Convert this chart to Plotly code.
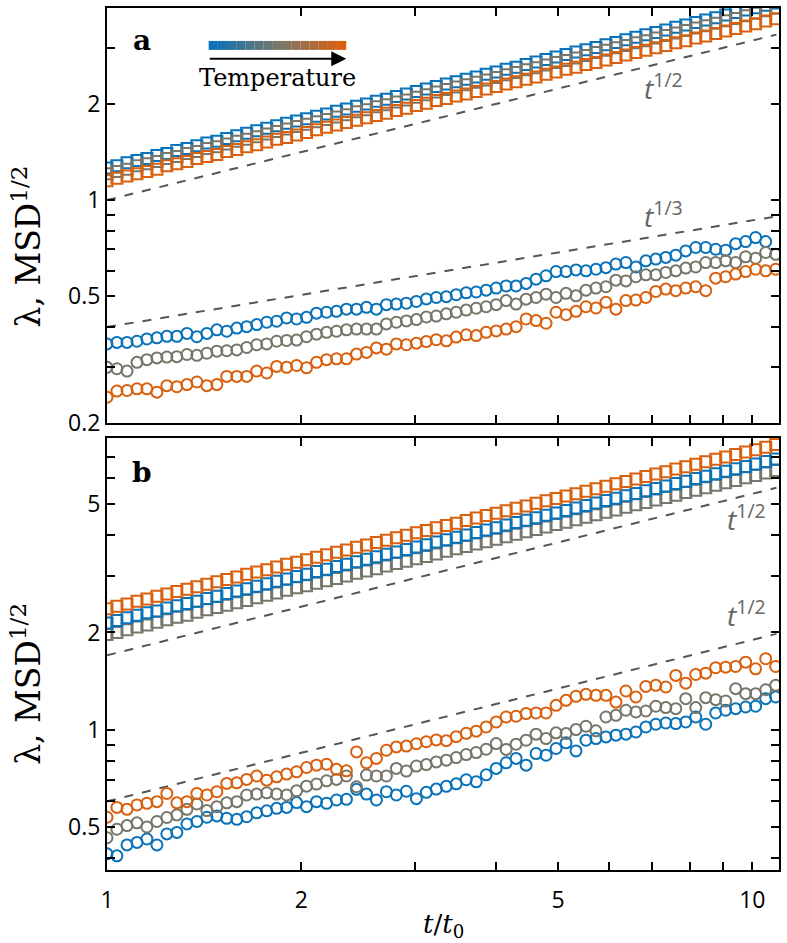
import math
import plotly.graph_objects as go

# time axis t/t0 (log-spaced samples)
t = [1.000, 1.036, 1.074, 1.113, 1.153, 1.195, 1.238, 1.283, 1.330, 1.378,
     1.428, 1.480, 1.533, 1.589, 1.646, 1.706, 1.768, 1.832, 1.898, 1.967,
     2.038, 2.112, 2.189, 2.268, 2.350, 2.436, 2.524, 2.615, 2.710, 2.808,
     2.910, 3.016, 3.125, 3.238, 3.356, 3.477, 3.603, 3.734, 3.869, 4.010,
     4.155, 4.305, 4.462, 4.623, 4.791, 4.965, 5.145, 5.331, 5.524, 5.725,
     5.932, 6.147, 6.370, 6.601, 6.840, 7.088, 7.345, 7.611, 7.887, 8.173,
     8.469, 8.776, 9.094, 9.424, 9.766, 10.12, 10.49, 10.87]

# panel a: MSD^1/2 (squares)
a_sq_blue = [1.26, 1.28, 1.31, 1.33, 1.35, 1.38, 1.40, 1.43, 1.45, 1.48,
             1.51, 1.53, 1.56, 1.59, 1.62, 1.65, 1.68, 1.71, 1.74, 1.77,
             1.80, 1.83, 1.86, 1.90, 1.93, 1.97, 2.00, 2.04, 2.07, 2.11,
             2.15, 2.19, 2.23, 2.27, 2.31, 2.35, 2.39, 2.43, 2.48, 2.52,
             2.57, 2.61, 2.66, 2.71, 2.76, 2.81, 2.86, 2.91, 2.96, 3.01,
             3.07, 3.12, 3.18, 3.24, 3.30, 3.35, 3.41, 3.48, 3.54, 3.60,
             3.67, 3.73, 3.80, 3.87, 3.94, 4.01, 4.08, 4.15]
a_sq_gray = [1.21, 1.23, 1.25, 1.28, 1.30, 1.32, 1.35, 1.37, 1.40, 1.42,
             1.45, 1.47, 1.50, 1.53, 1.55, 1.58, 1.61, 1.64, 1.67, 1.70,
             1.73, 1.76, 1.79, 1.82, 1.85, 1.89, 1.92, 1.96, 1.99, 2.03,
             2.06, 2.10, 2.14, 2.18, 2.22, 2.26, 2.30, 2.34, 2.38, 2.42,
             2.47, 2.51, 2.56, 2.60, 2.65, 2.70, 2.74, 2.79, 2.84, 2.90,
             2.95, 3.00, 3.05, 3.11, 3.16, 3.22, 3.28, 3.34, 3.40, 3.46,
             3.52, 3.58, 3.65, 3.71, 3.78, 3.85, 3.92, 3.99]
a_sq_orange = [1.15, 1.17, 1.19, 1.21, 1.23, 1.25, 1.28, 1.30, 1.32, 1.35,
               1.37, 1.39, 1.42, 1.44, 1.47, 1.49, 1.52, 1.55, 1.57, 1.60,
               1.63, 1.66, 1.69, 1.72, 1.75, 1.78, 1.81, 1.84, 1.87, 1.91,
               1.94, 1.98, 2.01, 2.05, 2.08, 2.12, 2.15, 2.19, 2.23, 2.27,
               2.31, 2.35, 2.39, 2.43, 2.48, 2.52, 2.57, 2.61, 2.66, 2.70,
               2.75, 2.80, 2.85, 2.90, 2.95, 3.00, 3.05, 3.11, 3.16, 3.22,
               3.27, 3.33, 3.39, 3.45, 3.51, 3.57, 3.64, 3.70]

# panel a: lambda (circles)
a_ci_blue = [0.354, 0.358, 0.358, 0.361, 0.367, 0.370, 0.374, 0.374, 0.382, 0.373,
             0.382, 0.392, 0.388, 0.397, 0.401, 0.407, 0.414, 0.417, 0.427, 0.424,
             0.429, 0.442, 0.445, 0.448, 0.455, 0.455, 0.461, 0.455, 0.470, 0.472,
             0.475, 0.481, 0.490, 0.495, 0.498, 0.505, 0.512, 0.515, 0.522, 0.530,
             0.538, 0.538, 0.548, 0.565, 0.579, 0.597, 0.597, 0.604, 0.600, 0.607,
             0.614, 0.630, 0.637, 0.617, 0.645, 0.653, 0.661, 0.672, 0.693, 0.710,
             0.710, 0.701, 0.696, 0.730, 0.741, 0.763, 0.741, None]
a_ci_gray = [0.299, 0.296, 0.291, 0.310, 0.316, 0.320, 0.322, 0.323, 0.328, 0.326,
             0.331, 0.336, 0.337, 0.339, 0.345, 0.352, 0.354, 0.361, 0.363, 0.364,
             0.373, 0.380, 0.385, 0.388, 0.392, 0.394, 0.394, 0.394, 0.409, 0.414,
             0.418, 0.422, 0.430, 0.433, 0.440, 0.445, 0.452, 0.458, 0.463, 0.470,
             0.484, 0.472, 0.489, 0.495, 0.507, 0.495, 0.510, 0.501, 0.522, 0.530,
             0.535, 0.561, 0.558, 0.575, 0.583, 0.583, 0.593, 0.600, 0.612, 0.617,
             0.637, 0.637, 0.645, 0.637, 0.664, 0.657, 0.685, 0.676]
a_ci_orange = [0.241, 0.252, 0.253, 0.256, 0.256, 0.250, 0.262, 0.260, 0.264, 0.269,
               0.262, 0.264, 0.280, 0.280, 0.280, 0.291, 0.287, 0.301, 0.299, 0.303,
               0.298, 0.310, 0.316, 0.318, 0.318, 0.329, 0.333, 0.344, 0.341, 0.354,
               0.352, 0.356, 0.360, 0.365, 0.362, 0.372, 0.378, 0.376, 0.385, 0.389,
               0.394, 0.401, 0.424, 0.419, 0.411, 0.445, 0.437, 0.448, 0.463, 0.459,
               0.478, 0.455, 0.484, 0.486, 0.495, 0.517, 0.526, 0.520, 0.530, 0.535,
               0.520, 0.569, 0.575, 0.586, 0.597, 0.607, 0.600, 0.607]

# panel b: MSD^1/2 (squares)
b_sq_orange = [2.37, 2.41, 2.45, 2.50, 2.54, 2.59, 2.63, 2.68, 2.72, 2.77,
               2.82, 2.87, 2.92, 2.97, 3.03, 3.08, 3.13, 3.19, 3.25, 3.30,
               3.36, 3.42, 3.48, 3.54, 3.60, 3.67, 3.73, 3.80, 3.86, 3.93,
               4.00, 4.07, 4.14, 4.22, 4.29, 4.36, 4.44, 4.52, 4.60, 4.68,
               4.76, 4.85, 4.93, 5.02, 5.11, 5.20, 5.29, 5.38, 5.47, 5.57,
               5.67, 5.77, 5.87, 5.97, 6.08, 6.19, 6.29, 6.41, 6.52, 6.63,
               6.75, 6.87, 6.99, 7.11, 7.24, 7.36, 7.49, 7.63]
b_sq_blue = [2.14, 2.18, 2.22, 2.26, 2.30, 2.33, 2.38, 2.42, 2.46, 2.50,
             2.55, 2.59, 2.64, 2.69, 2.73, 2.78, 2.83, 2.88, 2.93, 2.98,
             3.03, 3.09, 3.14, 3.20, 3.25, 3.31, 3.37, 3.43, 3.49, 3.55,
             3.61, 3.68, 3.74, 3.81, 3.87, 3.94, 4.01, 4.08, 4.15, 4.22,
             4.30, 4.38, 4.45, 4.53, 4.61, 4.69, 4.77, 4.86, 4.94, 5.03,
             5.12, 5.21, 5.30, 5.39, 5.49, 5.58, 5.68, 5.78, 5.88, 5.99,
             6.09, 6.20, 6.31, 6.42, 6.53, 6.65, 6.77, 6.89]
b_sq_gray = [1.97, 2.00, 2.04, 2.08, 2.11, 2.15, 2.19, 2.23, 2.26, 2.31,
             2.35, 2.39, 2.43, 2.47, 2.51, 2.56, 2.61, 2.65, 2.70, 2.75,
             2.79, 2.84, 2.89, 2.94, 2.99, 3.05, 3.10, 3.15, 3.21, 3.27,
             3.32, 3.38, 3.44, 3.50, 3.57, 3.63, 3.69, 3.76, 3.82, 3.89,
             3.96, 4.03, 4.10, 4.17, 4.24, 4.32, 4.39, 4.47, 4.55, 4.63,
             4.71, 4.79, 4.88, 4.97, 5.05, 5.14, 5.23, 5.32, 5.42, 5.51,
             5.61, 5.71, 5.81, 5.91, 6.02, 6.12, 6.23, 6.34]

# panel b: lambda (circles)
b_ci_orange = [0.536, 0.575, 0.567, 0.585, 0.592, 0.599, 0.635, 0.594, 0.599, 0.635,
               0.628, 0.643, 0.682, 0.685, 0.702, 0.719, 0.698, 0.715, 0.729, 0.741,
               0.764, 0.777, 0.782, 0.754, 0.746, 0.854, 0.790, 0.815, 0.864, 0.885,
               0.890, 0.905, 0.918, 0.930, 0.925, 0.952, 0.975, 0.990, 1.020, 1.057,
               1.095, 1.101, 1.122, 1.127, 1.127, 1.190, 1.233, 1.269, 1.287, 1.278,
               1.278, 1.218, 1.318, 1.263, 1.362, 1.372, 1.356, 1.473, 1.394, 1.483,
               1.497, 1.556, 1.562, 1.570, 1.619, 1.544, 1.659, 1.570]
b_ci_gray = [0.463, 0.492, 0.505, 0.515, 0.500, 0.520, 0.535, 0.545, 0.567, 0.589,
             0.562, 0.578, 0.594, 0.599, 0.628, 0.632, 0.638, 0.632, 0.628, 0.647,
             0.669, 0.679, 0.695, 0.702, 0.719, 0.666, 0.724, 0.719, 0.719, 0.759,
             0.745, 0.772, 0.780, 0.795, 0.805, 0.820, 0.838, 0.850, 0.870, 0.906,
             0.869, 0.902, 0.928, 0.969, 0.939, 0.978, 0.973, 1.001, 1.025, 0.992,
             1.095, 1.108, 1.149, 1.135, 1.143, 1.182, 1.171, 1.162, 1.248, 1.171,
             1.257, 1.239, 1.227, 1.340, 1.293, 1.293, 1.330, 1.372]
b_ci_blue = [0.413, 0.407, 0.440, 0.448, 0.459, 0.440, 0.476, 0.481, 0.511, 0.520,
             0.536, 0.541, 0.532, 0.528, 0.538, 0.553, 0.561, 0.571, 0.575, 0.595,
             0.578, 0.599, 0.592, 0.606, 0.609, 0.654, 0.632, 0.606, 0.643, 0.628,
             0.645, 0.612, 0.640, 0.655, 0.668, 0.680, 0.700, 0.690, 0.725, 0.759,
             0.790, 0.815, 0.777, 0.844, 0.834, 0.875, 0.911, 0.860, 0.928, 0.939,
             0.950, 0.962, 0.969, 0.984, 1.020, 1.040, 1.049, 1.045, 1.057, 1.095,
             1.040, 1.127, 1.149, 1.162, 1.176, 1.182, 1.248, 1.263]

# power-law guides (end points)
guide_t = [1.0, 10.9]
a_guide_half = [1.0, 3.30]
a_guide_third = [0.40, 0.889]
b_guide_half_up = [1.70, 5.61]
b_guide_half_lo = [0.60, 1.98]

# tick values / labels
x_ticks = [1, 2, 3, 4, 5, 6, 7, 8, 9, 10]
x_labels = ["1", "2", "", "", "5", "", "", "", "", "10"]
ya_ticks = [0.2, 0.3, 0.4, 0.5, 0.6, 0.7, 0.8, 0.9, 1, 2, 3, 4]
ya_labels = ["0.2", "", "", "0.5", "", "", "", "", "1", "2", "", ""]
yb_ticks = [0.4, 0.5, 0.6, 0.7, 0.8, 0.9, 1, 2, 3, 4, 5, 6, 7, 8]
yb_labels = ["", "0.5", "", "", "", "", "1", "2", "", "", "5", "", "", ""]

BLUE = "#0a72b8"
GRAY = "#76766b"
ORANGE = "#d9600f"
TICKFONT = dict(family="Open Sans, Liberation Sans, sans-serif", size=23, color="black")
SERIF = "DejaVu Serif, Liberation Serif, serif"

fig = go.Figure()


def add_series(y, color, symbol, xa, ya):
    fig.add_trace(go.Scatter(
        x=t, y=y, mode="markers", xaxis=xa, yaxis=ya,
        marker=dict(symbol=symbol, size=11, color=color,
                    line=dict(color=color, width=2)),
        showlegend=False, hoverinfo="skip"
    ))


def add_guide(y, xa, ya):
    fig.add_trace(go.Scatter(
        x=guide_t, y=y, mode="lines", xaxis=xa, yaxis=ya,
        line=dict(color="#555555", width=2, dash="dash"),
        showlegend=False, hoverinfo="skip"
    ))


# panel a
add_guide(a_guide_half, "x", "y")
add_guide(a_guide_third, "x", "y")
add_series(a_sq_blue, BLUE, "square-open", "x", "y")
add_series(a_sq_gray, GRAY, "square-open", "x", "y")
add_series(a_sq_orange, ORANGE, "square-open", "x", "y")
add_series(a_ci_blue, BLUE, "circle-open", "x", "y")
add_series(a_ci_gray, GRAY, "circle-open", "x", "y")
add_series(a_ci_orange, ORANGE, "circle-open", "x", "y")

# panel b
add_guide(b_guide_half_up, "x2", "y2")
add_guide(b_guide_half_lo, "x2", "y2")
add_series(b_sq_gray, GRAY, "square-open", "x2", "y2")
add_series(b_sq_blue, BLUE, "square-open", "x2", "y2")
add_series(b_sq_orange, ORANGE, "square-open", "x2", "y2")
add_series(b_ci_blue, BLUE, "circle-open", "x2", "y2")
add_series(b_ci_gray, GRAY, "circle-open", "x2", "y2")
add_series(b_ci_orange, ORANGE, "circle-open", "x2", "y2")

axis_style = dict(
    type="log", showline=True, linecolor="black", linewidth=2,
    mirror="allticks", ticks="inside", ticklen=8, tickwidth=1.5,
    tickcolor="black", showgrid=False, zeroline=False, tickfont=TICKFONT,
)

fig.update_layout(
    width=787, height=943,
    margin=dict(l=107, r=6, t=6, b=73),
    paper_bgcolor="white", plot_bgcolor="white",
    xaxis=dict(axis_style, range=[0, math.log10(11.0)], domain=[0, 1], anchor="y",
               tickvals=x_ticks, ticktext=x_labels, showticklabels=False),
    xaxis2=dict(axis_style, range=[0, math.log10(11.0)], domain=[0, 1], anchor="y2",
                tickvals=x_ticks, ticktext=x_labels, ticklabelstandoff=8),
    yaxis=dict(axis_style, range=[math.log10(0.2), math.log10(4.0)],
               domain=[0.5185, 1], anchor="x",
               tickvals=ya_ticks, ticktext=ya_labels),
    yaxis2=dict(axis_style, range=[math.log10(0.368), math.log10(8.0)],
                domain=[0, 0.5012], anchor="x2",
                tickvals=yb_ticks, ticktext=yb_labels),
)

# temperature colour strip
n_seg = 15
x0, x1 = 0.1513, 0.356
blue_rgb = (10, 114, 184)
gray_rgb = (118, 118, 107)
orange_rgb = (217, 96, 15)
for i in range(n_seg):
    f = i / (n_seg - 1)
    if f <= 0.5:
        g = f / 0.5
        c = [round(blue_rgb[j] + (gray_rgb[j] - blue_rgb[j]) * g) for j in range(3)]
    else:
        g = (f - 0.5) / 0.5
        c = [round(gray_rgb[j] + (orange_rgb[j] - gray_rgb[j]) * g) for j in range(3)]
    w = (x1 - x0) / n_seg
    fig.add_shape(type="rect", xref="paper", yref="paper",
                  x0=x0 + i * w, x1=x0 + (i + 1) * w, y0=0.9514, y1=0.9618,
                  fillcolor="rgb(%d,%d,%d)" % tuple(c), line=dict(width=0))


def label(x, y, text, font, **kw):
    return dict(x=x, y=y, xref="paper", yref="paper", showarrow=False,
                xanchor="center", yanchor="middle", text=text, font=font, **kw)


annotations = [
    dict(x=x1, y=0.941, xref="paper", yref="paper", ax=-(x1 - x0) * 674, ay=0,
         showarrow=True, arrowhead=2, arrowsize=1.5, arrowwidth=2,
         arrowcolor="black", text=""),
    label(0.2537, 0.919, "Temperature", dict(family=SERIF, size=24, color="black")),
    label(0.052, 0.962, "<b>a</b>", dict(family=SERIF, size=28, color="black")),
    label(0.052, 0.461, "<b>b</b>", dict(family=SERIF, size=28, color="black")),
    label(-0.119, 0.7234, "λ, MSD<sup>1/2</sup>",
          dict(family=SERIF, size=33, color="black"), textangle=-90),
    label(-0.119, 0.216, "λ, MSD<sup>1/2</sup>",
          dict(family=SERIF, size=33, color="black"), textangle=-90),
    label(0.5, -0.064, "<i>t</i>/<i>t</i><sub>0</sub>",
          dict(family=SERIF, size=26, color="black")),
]
guide_font = dict(family="Open Sans, sans-serif", size=28, color="#666666")
for gx, gy, txt in [(0.828, 0.909, "<i>t</i><sup>1/2</sup>"),
                    (0.828, 0.761, "<i>t</i><sup>1/3</sup>"),
                    (0.952, 0.409, "<i>t</i><sup>1/2</sup>"),
                    (0.952, 0.297, "<i>t</i><sup>1/2</sup>")]:
    annotations.append(label(gx, gy, txt, guide_font))
fig.update_layout(annotations=annotations)

fig.write_html("out.html", config={"displayModeBar": False},
               post_script="document.body.style.margin='0';")
